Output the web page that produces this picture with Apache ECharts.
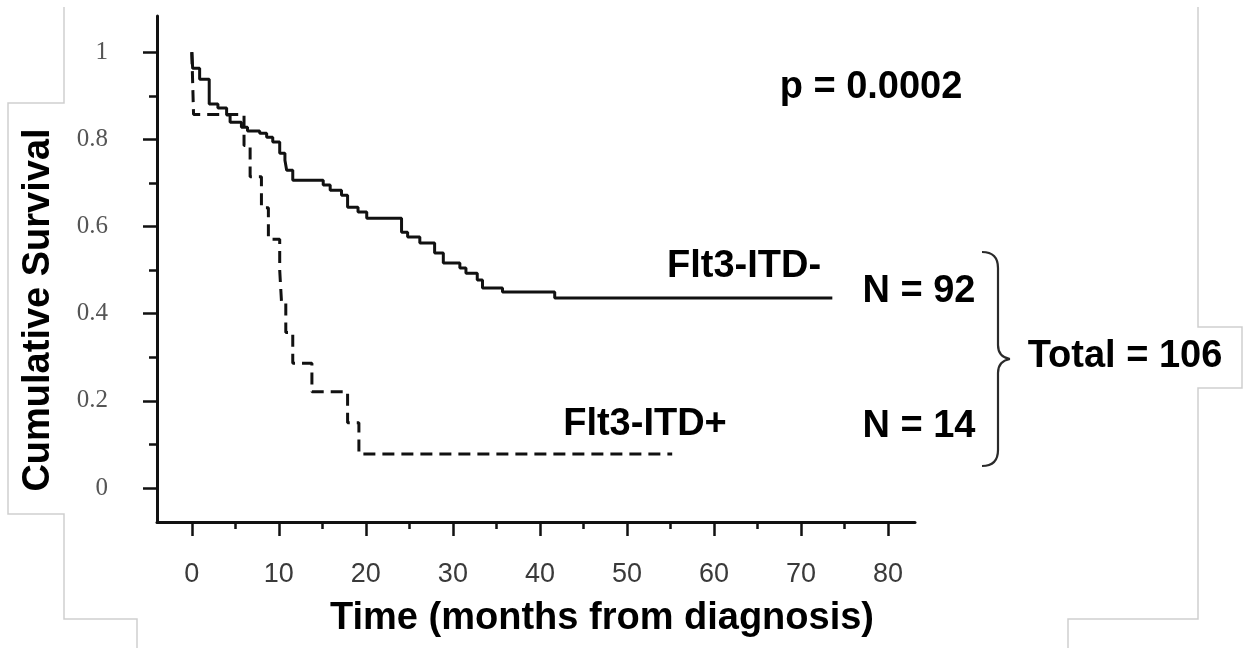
<!DOCTYPE html>
<html>
<head>
<meta charset="utf-8">
<title>Cumulative Survival by Flt3-ITD status</title>
<script src="https://cdn.jsdelivr.net/npm/echarts@6/dist/echarts.min.js"></script>
<style>
  html, body { margin: 0; padding: 0; background: #fff; }
  #chart { width: 1245px; height: 648px; }
</style>
</head>
<body>
<div id="chart"></div>
<script>
// Kaplan-Meier steps: time (months) of each event and survival after it
const negTimes = [0, 0.1, 0.9, 2.0, 3.0, 4.0, 4.4, 5.7, 6.4, 7.8, 8.6, 9.3, 10.1, 10.7, 10.9, 11.6, 15.1, 15.9, 17.2, 17.9, 19.1, 20.1, 24.1, 24.8, 26.2, 27.9, 28.9, 30.8, 31.5, 32.8, 33.4, 35.7, 41.7, 73.6];
const negSurv  = [1, 0.963, 0.938, 0.881, 0.872, 0.856, 0.839, 0.828, 0.819, 0.814, 0.805, 0.794, 0.768, 0.752, 0.729, 0.706, 0.695, 0.683, 0.672, 0.644, 0.633, 0.619, 0.587, 0.576, 0.562, 0.539, 0.516, 0.505, 0.493, 0.477, 0.459, 0.450, 0.436, 0.436];

const posTimes = [0, 0.1, 0.2, 6.0, 6.7, 8.0, 8.8, 10.1, 10.3, 10.8, 11.6, 13.8, 17.9, 19.2, 55.2];
const posSurv  = [1, 0.929, 0.857, 0.786, 0.714, 0.643, 0.571, 0.5, 0.429, 0.357, 0.286, 0.221, 0.150, 0.078, 0.078];

// Axis ticks
const xMajorTicks = [0, 10, 20, 30, 40, 50, 60, 70, 80];
const xMinorTicks = [5, 15, 25, 35, 45, 55, 65, 75];
const yMajorTicks = [0, 0.2, 0.4, 0.6, 0.8, 1];
const yMinorTicks = [0.1, 0.3, 0.5, 0.7, 0.9];

const xRange = [-4, 83.1];
const yRange = [-0.078, 1.083];

const zip = (a, b) => a.map((v, i) => [v, b[i]]);

const ink = '#111';
const boldFont = 'bold 38px "Liberation Sans", Arial, sans-serif';

function label(text, x, y, extra) {
  return Object.assign({
    type: 'text', x: x, y: y,
    style: { text: text, font: boldFont, fill: '#000', align: 'center', verticalAlign: 'middle' }
  }, extra || {});
}

const braceStyle = { stroke: '#2a2a2a', lineWidth: 2.2, fill: null };
function curve(x1, y1, cx, cy, x2, y2) {
  return { type: 'bezierCurve', silent: true,
    shape: { x1: x1, y1: y1, cpx1: cx, cpy1: cy, x2: x2, y2: y2 }, style: braceStyle };
}
function seg(x1, y1, x2, y2) {
  return { type: 'line', silent: true, shape: { x1: x1, y1: y1, x2: x2, y2: y2 }, style: braceStyle };
}

const chart = echarts.init(document.getElementById('chart'), null, { renderer: 'canvas' });

chart.setOption({
  animation: false,
  backgroundColor: '#fff',
  grid: { left: 157, right: 330, top: 16, bottom: 126, containLabel: false },
  xAxis: [
    {
      type: 'value', position: 'bottom', min: xRange[0], max: xRange[1],
      axisLine: { show: true, onZero: false, lineStyle: { color: ink, width: 3 } },
      axisTick: { show: true, customValues: xMajorTicks, length: 14, lineStyle: { color: ink, width: 2.5 } },
      axisLabel: {
        customValues: xMajorTicks, margin: 53, verticalAlign: 'middle',
        fontFamily: '"Liberation Sans", Arial, sans-serif', fontSize: 27, color: '#3a3a3a'
      },
      splitLine: { show: false }
    },
    {
      type: 'value', position: 'bottom', min: xRange[0], max: xRange[1],
      axisLine: { show: false, onZero: false },
      axisTick: { show: true, customValues: xMinorTicks, length: 7, lineStyle: { color: ink, width: 2.5 } },
      axisLabel: { show: false },
      splitLine: { show: false }
    }
  ],
  yAxis: [
    {
      type: 'value', position: 'left', min: yRange[0], max: yRange[1],
      axisLine: { show: true, onZero: false, lineStyle: { color: ink, width: 3 } },
      axisTick: { show: true, customValues: yMajorTicks, length: 14, lineStyle: { color: ink, width: 2.5 } },
      axisLabel: {
        customValues: yMajorTicks, margin: 49,
        formatter: v => String(+(+v).toFixed(1)),
        fontFamily: '"Liberation Serif", "Times New Roman", serif', fontSize: 25, color: '#555'
      },
      splitLine: { show: false }
    },
    {
      type: 'value', position: 'left', min: yRange[0], max: yRange[1],
      axisLine: { show: false, onZero: false },
      axisTick: { show: true, customValues: yMinorTicks, length: 8, lineStyle: { color: ink, width: 2.5 } },
      axisLabel: { show: false },
      splitLine: { show: false }
    }
  ],
  series: [
    {
      name: 'Flt3-ITD-', type: 'line', step: 'end', showSymbol: false, symbol: 'none',
      xAxisIndex: 0, yAxisIndex: 0,
      data: zip(negTimes, negSurv),
      lineStyle: { color: ink, width: 3 }
    },
    {
      name: 'Flt3-ITD+', type: 'line', step: 'end', showSymbol: false, symbol: 'none',
      xAxisIndex: 0, yAxisIndex: 0,
      data: zip(posTimes, posSurv),
      lineStyle: { color: ink, width: 3, type: [12, 7] }
    }
  ],
  graphic: [
    // frame edges around the figure
    { type: 'polyline', silent: true,
      shape: { points: [[64, 7], [64, 103], [8, 103], [8, 514], [64, 514], [64, 619], [137, 619], [137, 648]] },
      style: { stroke: '#cfcfcf', lineWidth: 1.5, fill: null } },
    { type: 'polyline', silent: true,
      shape: { points: [[1198, 7], [1198, 327], [1242, 327], [1242, 388], [1198, 388], [1198, 619], [1068, 619], [1068, 648]] },
      style: { stroke: '#cfcfcf', lineWidth: 1.5, fill: null } },

    // axis titles
    label('Time (months from diagnosis)', 602, 619),
    label('Cumulative Survival', 39, 310, { rotation: Math.PI / 2 }),

    // annotations
    label('p = 0.0002', 871, 88),
    label('Flt3-ITD-', 744, 267),
    label('Flt3-ITD+', 645, 425),
    label('N = 92', 919, 292),
    label('N = 14', 919, 427),
    label('Total = 106', 1125, 357),

    // brace grouping both cohorts
    curve(982, 252, 998, 252, 998, 268),
    seg(998, 268, 998, 345),
    curve(998, 345, 998, 357, 1010, 359),
    curve(1010, 359, 998, 361, 998, 373),
    seg(998, 373, 998, 450),
    curve(998, 450, 998, 466, 982, 466)
  ]
});
</script>
</body>
</html>
